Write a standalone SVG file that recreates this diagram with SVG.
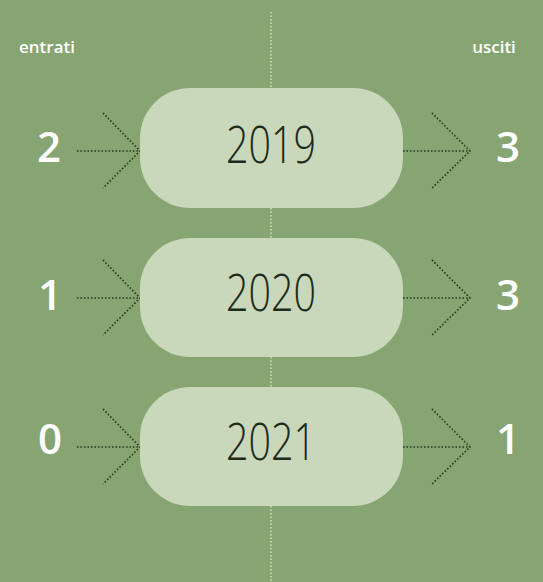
<svg xmlns="http://www.w3.org/2000/svg" width="543" height="582" viewBox="0 0 543 582">
<style>
.bg{fill:#87a572}
.pill{fill:#c9d7ba}
.year{font-family:"Open Sans","Liberation Sans",sans-serif;font-weight:300;font-size:52px;fill:#1e2a1a;text-anchor:middle}
.num{font-family:"Open Sans","Liberation Sans",sans-serif;font-weight:600;font-size:42px;fill:#ffffff;text-anchor:middle}
.lbl{font-family:"Open Sans","Liberation Sans",sans-serif;font-weight:600;font-size:17px;fill:#ffffff;text-anchor:middle}
.dots{fill:none;stroke:#1f3a18;stroke-width:1.7;stroke-dasharray:1.5 2}
.axis{fill:none;stroke:#dfe9d2;stroke-width:1.3;stroke-dasharray:1.5 2}
</style>
<rect class="bg" x="0" y="0" width="543" height="582"/>
<g id="connectors">
<line class="axis" x1="271" y1="12" x2="271" y2="88"/>
<line class="axis" x1="271" y1="208" x2="271" y2="238"/>
<line class="axis" x1="271" y1="357" x2="271" y2="387"/>
<line class="axis" x1="271" y1="506" x2="271" y2="582"/>
<g id="in-2019"><path class="dots" d="M77 151H140M103 113L140 151L103 188"/></g>
<g id="out-2019"><path class="dots" d="M403 151H470M432 113L470 151L432 188"/></g>
<g id="in-2020"><path class="dots" d="M77 298H140M103 260L140 298L103 335"/></g>
<g id="out-2020"><path class="dots" d="M403 298H470M432 260L470 298L432 335"/></g>
<g id="in-2021"><path class="dots" d="M77 447H140M103 409L140 447L103 484"/></g>
<g id="out-2021"><path class="dots" d="M403 447H470M432 409L470 447L432 484"/></g>
</g>
<g id="header">
<text class="lbl" x="47" y="53">entrati</text>
<text class="lbl" x="494" y="53">usciti</text>
</g>
<g id="node-2019">
<rect class="pill" x="140" y="88" width="263" height="120" rx="50"/>
<text class="year" x="271" y="163" textLength="90" lengthAdjust="spacingAndGlyphs">2019</text>
</g>
<g id="node-2020">
<rect class="pill" x="140" y="238" width="263" height="119" rx="50"/>
<text class="year" x="271" y="311" textLength="90" lengthAdjust="spacingAndGlyphs">2020</text>
</g>
<g id="node-2021">
<rect class="pill" x="140" y="387" width="263" height="119" rx="50"/>
<text class="year" x="271" y="460" textLength="90" lengthAdjust="spacingAndGlyphs">2021</text>
</g>
<g id="values">
<text class="num" x="49" y="162">2</text>
<text class="num" x="508" y="162">3</text>
<text class="num" x="50" y="310">1</text>
<text class="num" x="508" y="310">3</text>
<text class="num" x="50" y="454">0</text>
<text class="num" x="508" y="454">1</text>
</g>
</svg>
